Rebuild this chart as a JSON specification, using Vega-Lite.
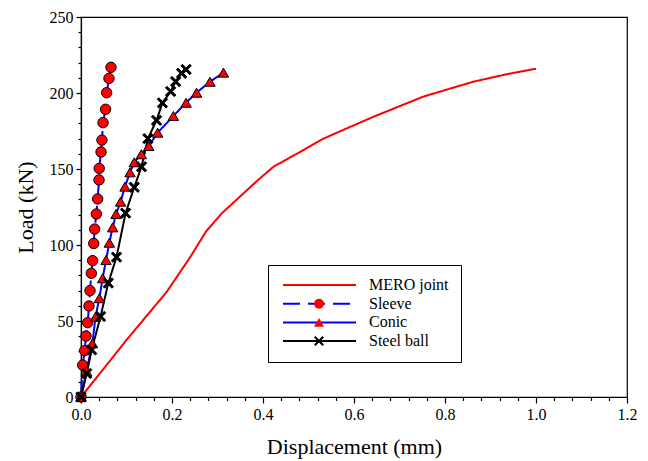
{
  "$schema": "https://vega.github.io/schema/vega-lite/v6.json",
  "width": 546,
  "height": 380,
  "autosize": {"type": "none"},
  "padding": {"left": 81, "top": 17, "right": 21, "bottom": 64},
  "background": "white",
  "config": {
    "font": "Times New Roman, Liberation Serif, serif",
    "view": {"stroke": "black", "strokeWidth": 1.2},
    "axis": {
      "grid": false,
      "domainColor": "black",
      "domainWidth": 1.2,
      "tickColor": "black",
      "tickWidth": 1.2,
      "labelColor": "black",
      "titleColor": "black",
      "labelFont": "Times New Roman, Liberation Serif, serif",
      "titleFont": "Times New Roman, Liberation Serif, serif",
      "labelFontSize": 16,
      "titleFontSize": 22,
      "titleFontWeight": "normal"
    },
    "legend": {
      "labelFont": "Times New Roman, Liberation Serif, serif"
    }
  },
  "data": {
    "values": [
      {"series": "MERO joint", "disp": 0, "load": 0},
      {"series": "MERO joint", "disp": 0.042, "load": 15.7},
      {"series": "MERO joint", "disp": 0.1, "load": 37.5},
      {"series": "MERO joint", "disp": 0.188, "load": 69},
      {"series": "MERO joint", "disp": 0.24, "load": 92},
      {"series": "MERO joint", "disp": 0.275, "load": 109},
      {"series": "MERO joint", "disp": 0.31, "load": 121},
      {"series": "MERO joint", "disp": 0.35, "load": 132},
      {"series": "MERO joint", "disp": 0.39, "load": 143},
      {"series": "MERO joint", "disp": 0.423, "load": 151.5},
      {"series": "MERO joint", "disp": 0.48, "load": 161},
      {"series": "MERO joint", "disp": 0.533, "load": 170},
      {"series": "MERO joint", "disp": 0.59, "load": 177.5},
      {"series": "MERO joint", "disp": 0.643, "load": 184.4},
      {"series": "MERO joint", "disp": 0.7, "load": 191.3},
      {"series": "MERO joint", "disp": 0.752, "load": 197.6},
      {"series": "MERO joint", "disp": 0.81, "load": 202.8},
      {"series": "MERO joint", "disp": 0.862, "load": 207.4},
      {"series": "MERO joint", "disp": 0.93, "load": 212},
      {"series": "MERO joint", "disp": 1.0, "load": 216},

      {"series": "Sleeve", "disp": 0, "load": 0},
      {"series": "Sleeve", "disp": 0.0037, "load": 21},
      {"series": "Sleeve", "disp": 0.008, "load": 30.5},
      {"series": "Sleeve", "disp": 0.011, "load": 40.1},
      {"series": "Sleeve", "disp": 0.0147, "load": 48.9},
      {"series": "Sleeve", "disp": 0.0176, "load": 59.9},
      {"series": "Sleeve", "disp": 0.0198, "load": 70},
      {"series": "Sleeve", "disp": 0.0227, "load": 81.4},
      {"series": "Sleeve", "disp": 0.0256, "load": 89.7},
      {"series": "Sleeve", "disp": 0.028, "load": 101},
      {"series": "Sleeve", "disp": 0.03, "load": 110.5},
      {"series": "Sleeve", "disp": 0.0337, "load": 120.4},
      {"series": "Sleeve", "disp": 0.0366, "load": 130.3},
      {"series": "Sleeve", "disp": 0.0396, "load": 142.8},
      {"series": "Sleeve", "disp": 0.04, "load": 150.4},
      {"series": "Sleeve", "disp": 0.044, "load": 161.2},
      {"series": "Sleeve", "disp": 0.046, "load": 169},
      {"series": "Sleeve", "disp": 0.0484, "load": 180.5},
      {"series": "Sleeve", "disp": 0.054, "load": 189.3},
      {"series": "Sleeve", "disp": 0.0564, "load": 200.2},
      {"series": "Sleeve", "disp": 0.0615, "load": 209.6},
      {"series": "Sleeve", "disp": 0.0659, "load": 216.9},

      {"series": "Conic", "disp": 0, "load": 0},
      {"series": "Conic", "disp": 0.012, "load": 17},
      {"series": "Conic", "disp": 0.025, "load": 35.3},
      {"series": "Conic", "disp": 0.032, "load": 52.8},
      {"series": "Conic", "disp": 0.0403, "load": 65},
      {"series": "Conic", "disp": 0.0476, "load": 78.1},
      {"series": "Conic", "disp": 0.055, "load": 90.1},
      {"series": "Conic", "disp": 0.0623, "load": 101.5},
      {"series": "Conic", "disp": 0.0696, "load": 111.6},
      {"series": "Conic", "disp": 0.077, "load": 120.4},
      {"series": "Conic", "disp": 0.087, "load": 128.5},
      {"series": "Conic", "disp": 0.0967, "load": 138.4},
      {"series": "Conic", "disp": 0.1077, "load": 147.8},
      {"series": "Conic", "disp": 0.117, "load": 154.4},
      {"series": "Conic", "disp": 0.1326, "load": 159.7},
      {"series": "Conic", "disp": 0.149, "load": 165.1},
      {"series": "Conic", "disp": 0.1685, "load": 173.9},
      {"series": "Conic", "disp": 0.203, "load": 184.9},
      {"series": "Conic", "disp": 0.231, "load": 193.6},
      {"series": "Conic", "disp": 0.254, "load": 200.2},
      {"series": "Conic", "disp": 0.2835, "load": 207.4},
      {"series": "Conic", "disp": 0.313, "load": 213.4},

      {"series": "Steel ball", "disp": 0, "load": 0},
      {"series": "Steel ball", "disp": 0.0125, "load": 15.5},
      {"series": "Steel ball", "disp": 0.0235, "load": 31},
      {"series": "Steel ball", "disp": 0.043, "load": 53},
      {"series": "Steel ball", "disp": 0.06, "load": 75},
      {"series": "Steel ball", "disp": 0.078, "load": 92},
      {"series": "Steel ball", "disp": 0.098, "load": 121},
      {"series": "Steel ball", "disp": 0.117, "load": 138},
      {"series": "Steel ball", "disp": 0.133, "load": 151.5},
      {"series": "Steel ball", "disp": 0.147, "load": 170},
      {"series": "Steel ball", "disp": 0.166, "load": 182},
      {"series": "Steel ball", "disp": 0.179, "load": 193.5},
      {"series": "Steel ball", "disp": 0.197, "load": 201},
      {"series": "Steel ball", "disp": 0.208, "load": 207.5},
      {"series": "Steel ball", "disp": 0.221, "load": 213},
      {"series": "Steel ball", "disp": 0.231, "load": 215.5}
    ]
  },
  "layer": [
    {
      "mark": {"type": "line", "strokeWidth": 2},
      "encoding": {
        "x": {
          "field": "disp",
          "type": "quantitative",
          "scale": {"domain": [0, 1.2], "nice": false},
          "axis": {
            "title": "Displacement (mm)",
            "values": [0, 0.04, 0.08, 0.12, 0.16, 0.2, 0.24, 0.28, 0.32, 0.36, 0.4, 0.44, 0.48, 0.52, 0.56, 0.6, 0.64, 0.68, 0.72, 0.76, 0.8, 0.84, 0.88, 0.92, 0.96, 1.0, 1.04, 1.08, 1.12, 1.16, 1.2],
            "tickCount": 200,
            "labelExpr": "abs(datum.value * 5 - round(datum.value * 5)) < 0.001 ? format(datum.value, '.1f') : ''",
            "tickSize": {"condition": {"test": "abs(datum.value * 5 - round(datum.value * 5)) < 0.001", "value": 6}, "value": 3.5},
            "labelFlush": false,
            "labelOverlap": false,
            "labelPadding": 3,
            "titlePadding": 14
          }
        },
        "y": {
          "field": "load",
          "type": "quantitative",
          "scale": {"domain": [0, 250], "nice": false},
          "axis": {
            "title": "Load (kN)",
            "values": [0, 10, 20, 30, 40, 50, 60, 70, 80, 90, 100, 110, 120, 130, 140, 150, 160, 170, 180, 190, 200, 210, 220, 230, 240, 250],
            "tickCount": 200,
            "labelExpr": "datum.value % 50 === 0 ? format(datum.value, 'd') : ''",
            "tickSize": {"condition": {"test": "datum.value % 50 === 0", "value": 5}, "value": 3},
            "labelOverlap": false,
            "labelPadding": 3,
            "titlePadding": 12
          }
        },
        "order": {"field": "load", "type": "quantitative"},
        "color": {
          "field": "series",
          "type": "nominal",
          "sort": ["MERO joint", "Sleeve", "Conic", "Steel ball"],
          "scale": {"range": ["#ff0000", "#0000ff", "#0000ff", "#000000"]},
          "legend": {
            "title": null,
            "orient": "none",
            "legendX": 187,
            "legendY": 248,
            "direction": "vertical",
            "strokeColor": "black",
            "fillColor": "white",
            "padding": 12,
            "labelFontSize": 16,
            "labelColor": "black",
            "labelOffset": 73,
            "labelLimit": 300,
            "symbolType": "M-1,0H13.6",
            "symbolSize": 100,
            "symbolStrokeWidth": 2,
            "rowPadding": 2.7,
            "encode": {
              "symbols": {
                "update": {
                  "strokeDash": {"signal": "datum.value === 'Sleeve' ? [17, 8] : [1, 0]"}
                }
              }
            }
          }
        },
        "strokeDash": {
          "field": "series",
          "type": "nominal",
          "sort": ["MERO joint", "Sleeve", "Conic", "Steel ball"],
          "scale": {"range": [[1, 0], [17, 8], [1, 0], [1, 0]]},
          "legend": null
        }
      }
    },
    {
      "transform": [{"filter": "datum.series !== 'MERO joint'"}],
      "mark": {"type": "point", "filled": true, "stroke": "black", "strokeWidth": 1, "size": 108, "opacity": 1},
      "encoding": {
        "x": {"field": "disp", "type": "quantitative"},
        "y": {"field": "load", "type": "quantitative"},
        "shape": {
          "field": "series",
          "type": "nominal",
          "scale": {
            "domain": ["MERO joint", "Sleeve", "Conic", "Steel ball"],
            "range": ["M0,0", "circle", "triangle-up", "M-1,-0.7L-0.7,-1L0,-0.3L0.7,-1L1,-0.7L0.3,0L1,0.7L0.7,1L0,0.3L-0.7,1L-1,0.7L-0.3,0Z"]
          },
          "legend": {
            "title": null,
            "orient": "none",
            "legendX": 230,
            "legendY": 260,
            "direction": "vertical",
            "padding": 0,
            "labelFontSize": 16,
            "labelExpr": "''",
            "symbolSize": 100,
            "symbolStrokeColor": "black",
            "symbolStrokeWidth": 1,
            "rowPadding": 2.7
          }
        },
        "fill": {
          "field": "series",
          "type": "nominal",
          "scale": {
            "domain": ["MERO joint", "Sleeve", "Conic", "Steel ball"],
            "range": ["transparent", "#ff0000", "#ff0000", "#000000"]
          },
          "legend": {
            "title": null,
            "orient": "none",
            "legendX": 230,
            "legendY": 260,
            "direction": "vertical",
            "padding": 0,
            "labelFontSize": 16,
            "labelExpr": "''",
            "symbolSize": 100,
            "symbolStrokeColor": "black",
            "symbolStrokeWidth": 1,
            "rowPadding": 2.7
          }
        }
      }
    }
  ]
}
